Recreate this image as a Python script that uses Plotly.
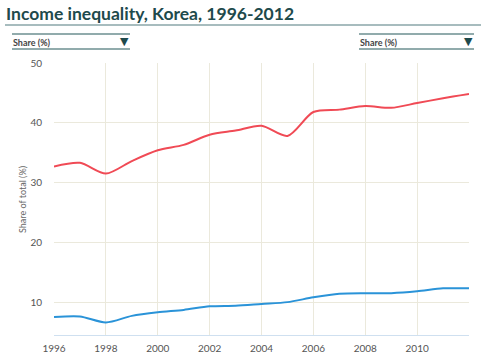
import plotly.graph_objects as go

years = list(range(1996, 2013))
top_share = [32.7, 33.3, 31.5, 33.6, 35.4, 36.3, 38.0, 38.7, 39.5, 37.8, 41.8, 42.2, 42.8, 42.5, 43.3, 44.1, 44.8]
bottom_share = [7.5, 7.6, 6.6, 7.7, 8.3, 8.7, 9.3, 9.4, 9.7, 10.0, 10.8, 11.4, 11.5, 11.5, 11.8, 12.3, 12.3]
y_ticks = [10, 20, 30, 40, 50]
x_ticks = [1996, 1998, 2000, 2002, 2004, 2006, 2008, 2010]

title_text = "Income inequality, Korea, 1996-2012"
dropdown_label = "Share (%)"
y_title = "Share of total (%)"

W, H = 481, 361
L, R, T, B = 54, 12, 63, 26
PW, PH = W - L - R, H - T - B

def px(x):
    return (x - L) / PW

def py(y):
    return (H - B - y) / PH

fig = go.Figure()
fig.add_trace(go.Scatter(x=years, y=top_share, mode="lines",
                         line=dict(color="#f04a55", width=2, shape="spline", smoothing=0.8),
                         hoverinfo="x+y", showlegend=False))
fig.add_trace(go.Scatter(x=years, y=bottom_share, mode="lines",
                         line=dict(color="#2a93d8", width=2, shape="spline", smoothing=0.8),
                         hoverinfo="x+y", showlegend=False))

teal = "#1e4a4c"
line_col = "#6d8f91"
fig.update_layout(
    width=W, height=H,
    margin=dict(l=L, r=R, t=T, b=B, autoexpand=False),
    paper_bgcolor="white", plot_bgcolor="white",
    font=dict(family="Lato, 'Open Sans', sans-serif", color="#555555", size=10),
    xaxis=dict(range=[1996, 2012], tickvals=x_ticks, showgrid=True,
               gridcolor="#ebe9dc", gridwidth=1, zeroline=False,
               showline=True, linecolor="#cfe0f0", linewidth=1,
               ticks="outside", ticklen=4, tickcolor="rgba(0,0,0,0)",
               tickfont=dict(size=10, color="#555555"), fixedrange=True, automargin=False),
    yaxis=dict(range=[4.5, 50], tickvals=y_ticks, showgrid=True,
               gridcolor="#ebe9dc", gridwidth=1, zeroline=False,
               showline=False, ticks="outside", ticklen=9, tickcolor="rgba(0,0,0,0)",
               tickfont=dict(size=10, color="#555555"),
               fixedrange=True, automargin=False),
    shapes=[
        dict(type="line", xref="paper", yref="paper", x0=px(5), x1=px(481),
             y0=py(25), y1=py(25), line=dict(color="#8aa6a8", width=1.5)),
        dict(type="line", xref="paper", yref="paper", x0=px(12), x1=px(130),
             y0=py(34), y1=py(34), line=dict(color=line_col, width=1.5)),
        dict(type="line", xref="paper", yref="paper", x0=px(12), x1=px(130),
             y0=py(49), y1=py(49), line=dict(color=line_col, width=1.5)),
        dict(type="line", xref="paper", yref="paper", x0=px(359), x1=px(474),
             y0=py(34), y1=py(34), line=dict(color=line_col, width=1.5)),
        dict(type="line", xref="paper", yref="paper", x0=px(359), x1=px(474),
             y0=py(49), y1=py(49), line=dict(color=line_col, width=1.5)),
    ],
    annotations=[
        dict(text="<b>" + title_text + "</b>", xref="paper", yref="paper",
             x=px(4), y=py(14), xanchor="left", yanchor="middle", showarrow=False,
             font=dict(size=17.5, color=teal, family="Lato, sans-serif")),
        dict(text="<b>" + dropdown_label + "</b>", xref="paper", yref="paper",
             x=px(11), y=py(42), xanchor="left", yanchor="middle", showarrow=False,
             font=dict(size=9, color="#444444")),
        dict(text="▼", xref="paper", yref="paper",
             x=px(131), y=py(41.5), xanchor="right", yanchor="middle", showarrow=False,
             font=dict(size=11, color=teal, family="DejaVu Sans")),
        dict(text="<b>" + dropdown_label + "</b>", xref="paper", yref="paper",
             x=px(358), y=py(42), xanchor="left", yanchor="middle", showarrow=False,
             font=dict(size=9, color="#444444")),
        dict(text="▼", xref="paper", yref="paper",
             x=px(475), y=py(41.5), xanchor="right", yanchor="middle", showarrow=False,
             font=dict(size=11, color=teal, family="DejaVu Sans")),
        dict(text=y_title, xref="paper", yref="paper",
             x=px(22), y=py(200), xanchor="center", yanchor="middle", showarrow=False,
             textangle=-90, font=dict(size=9, color="#666666")),
    ],
)

fig.write_html("out.html", config={"displayModeBar": False},
               post_script="document.body.style.margin='0';")
